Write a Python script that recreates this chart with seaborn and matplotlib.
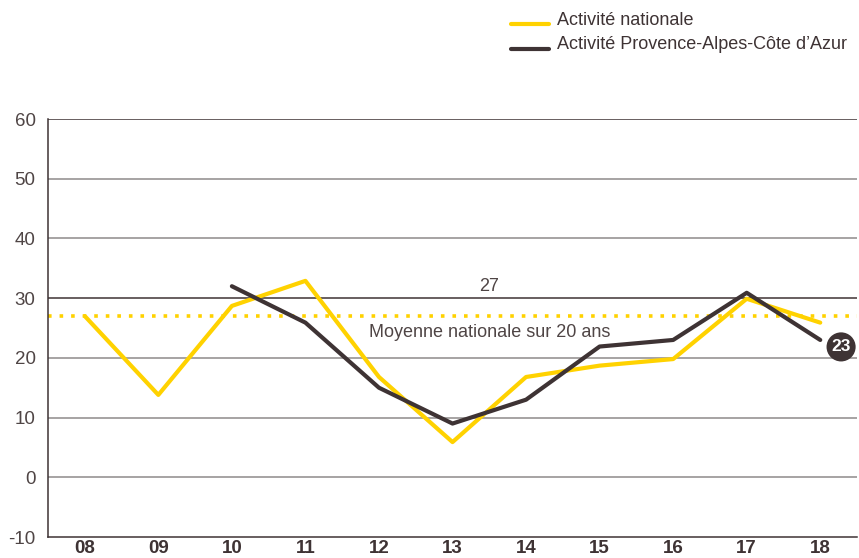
import numpy as np
import pandas as pd
import seaborn as sns
from matplotlib import pyplot as plt

sns.set_style('white')
plt.rcParams['font.family'] = ['Liberation Sans', 'DejaVu Sans']

years = ['08', '09', '10', '11', '12', '13', '14', '15', '16', '17', '18']
nationale = [27.0, 13.8, 28.7, 32.9, 16.8, 5.9, 16.8, 18.7, 19.8, 29.9, 25.9]
paca = [np.nan, np.nan, 32.0, 25.9, 15.0, 9.0, 13.0, 21.9, 23.0, 30.9, 23.0]
moyenne = 27
yticks = [-10, 0, 10, 20, 30, 40, 50, 60]

YELLOW = '#ffd200'
DARK = '#3e3334'
GREY_TXT = '#4f4545'

df = pd.DataFrame({
    'x': list(range(len(years))) * 2,
    'value': nationale + paca,
    'serie': ['Activité nationale'] * len(years) + ['Activité Provence-Alpes-Côte d\u2019Azur'] * len(years),
})

fig = plt.figure(figsize=(8.59, 5.58), dpi=100)
ax = fig.add_axes([0.0559, 0.0376, 0.9418, 0.7491])

for y in yticks[1:]:
    ax.axhline(y, color=DARK if y in (30, 60) else '#8e8a8a', lw=1.1, zorder=1)

ax.axhline(moyenne, color=YELLOW, lw=2.6, ls=(0, (1, 2.2)), zorder=2)

sns.lineplot(data=df, x='x', y='value', hue='serie',
             palette=[YELLOW, DARK], lw=3, ax=ax, legend=False, zorder=3)

ax.set_xlim(-0.5, len(years) - 0.5)
ax.set_ylim(-10, 60)
ax.set_yticks(yticks)
ax.set_yticklabels([str(v) for v in yticks], fontsize=13.5, color=GREY_TXT)
ax.set_xticks(range(len(years)))
ax.set_xticklabels(years, fontsize=13.5, fontweight='bold', color=DARK)
ax.set_xticks(np.arange(-0.5, len(years)), minor=True)
ax.tick_params(axis='x', which='major', length=0, pad=2)
ax.tick_params(axis='x', which='minor', length=5, width=1, color=DARK, direction='out')
ax.tick_params(axis='y', length=0, pad=9)
ax.set_xlabel('')
ax.set_ylabel('')

for s in ['top', 'right']:
    ax.spines[s].set_visible(False)
ax.spines['left'].set_color(DARK)
ax.spines['bottom'].set_color(DARK)
ax.spines['left'].set_linewidth(1.1)
ax.spines['bottom'].set_linewidth(1.1)

ax.text(5.5, 31.9, str(moyenne), ha='center', va='center', fontsize=13, color=GREY_TXT)
ax.text(5.5, 24.2, 'Moyenne nationale sur 20 ans', ha='center', va='center', fontsize=13, color=GREY_TXT)

ax.annotate('23', xy=(10, paca[-1]), xytext=(15, -5), textcoords='offset points',
            ha='center', va='center', fontsize=12.5, fontweight='bold', color='white',
            annotation_clip=False,
            bbox=dict(boxstyle='circle,pad=0.28', fc=DARK, ec='none'))

# legende en haut a droite
lx0, lx1, tx = 0.595, 0.639, 0.648
for ly, ty, col, lab in [(0.957, 0.964, YELLOW, 'Activité nationale'),
                         (0.913, 0.921, DARK, 'Activité Provence-Alpes-Côte d\u2019Azur')]:
    fig.add_artist(plt.Line2D([lx0, lx1], [ly, ly], color=col, lw=3, transform=fig.transFigure))
    fig.text(tx, ty, lab, ha='left', va='center', fontsize=13, color=DARK)

fig.savefig('out.png', dpi=100)
